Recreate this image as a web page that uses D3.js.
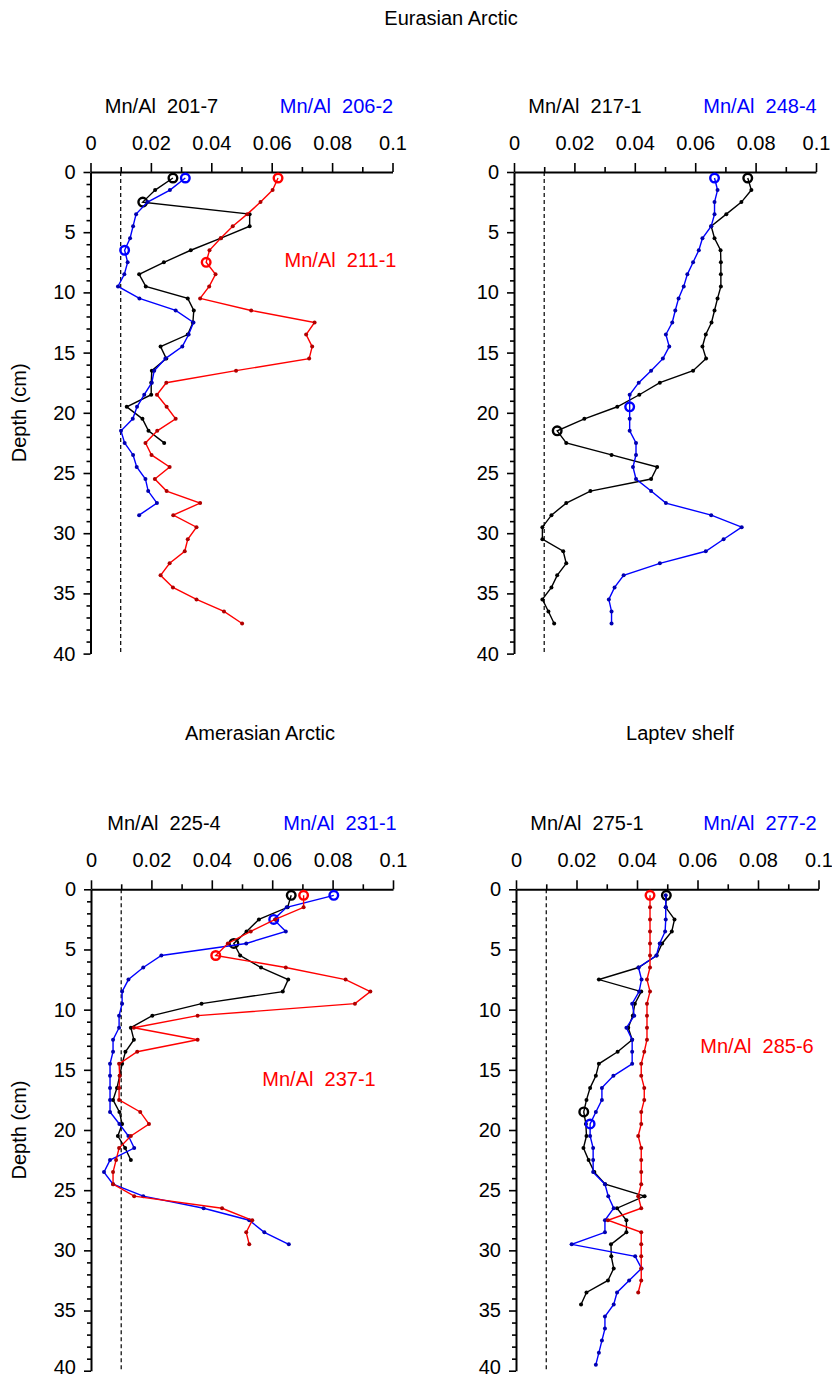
<!DOCTYPE html>
<html>
<head>
<meta charset="utf-8">
<script src="https://cdn.jsdelivr.net/npm/d3@7"></script>
<style>
  body { margin: 0; background: #fff; }
  svg { display: block; }
  text { font-family: "Liberation Sans", Arial, sans-serif; }
</style>
</head>
<body>
<div id="chart"></div>
<script>
// sample depths (cm), mid-points of 1 cm slices
const depths = [0.5, 1.5, 2.5, 3.5, 4.5, 5.5, 6.5, 7.5, 8.5, 9.5,
  10.5, 11.5, 12.5, 13.5, 14.5, 15.5, 16.5, 17.5, 18.5, 19.5,
  20.5, 21.5, 22.5, 23.5, 24.5, 25.5, 26.5, 27.5, 28.5, 29.5,
  30.5, 31.5, 32.5, 33.5, 34.5, 35.5, 36.5, 37.5, 38.5, 39.5];

// Mn/Al ratios per core, top down
const mn201 = [0.0273, 0.0214, 0.0173, 0.0527, 0.0527, 0.0432, 0.0332, 0.0243, 0.0161, 0.0183,
  0.0322, 0.0342, 0.0339, 0.0322, 0.0232, 0.0251, 0.0203, 0.0201, 0.0201, 0.0120,
  0.0172, 0.0192, 0.0244];
const mn206 = [0.0314, 0.0263, 0.0189, 0.0151, 0.0141, 0.0131, 0.0113, 0.0123, 0.0112, 0.0091,
  0.0162, 0.0282, 0.0341, 0.0325, 0.0304, 0.0248, 0.0211, 0.0203, 0.0178, 0.0154,
  0.0140, 0.0101, 0.0113, 0.0141, 0.0153, 0.0182, 0.0191, 0.0220, 0.0161];
const mn211 = [0.0621, 0.0603, 0.0563, 0.0519, 0.0471, 0.0431, 0.0394, 0.0383, 0.0414, 0.0393,
  0.0363, 0.0532, 0.0742, 0.0714, 0.0734, 0.0724, 0.0482, 0.0251, 0.0220, 0.0252,
  0.0282, 0.0221, 0.0182, 0.0202, 0.0262, 0.0213, 0.0252, 0.0363, 0.0274, 0.0351,
  0.0322, 0.0312, 0.0262, 0.0232, 0.0273, 0.0351, 0.0442, 0.0502];
const mn217 = [0.0774, 0.0786, 0.0753, 0.0703, 0.0653, 0.0664, 0.0684, 0.0685, 0.0685, 0.0685,
  0.0674, 0.0664, 0.0654, 0.0635, 0.0624, 0.0636, 0.0593, 0.0483, 0.0415, 0.0342,
  0.0233, 0.0143, 0.0173, 0.0323, 0.0474, 0.0454, 0.0253, 0.0173, 0.0124, 0.0094,
  0.0094, 0.0163, 0.0173, 0.0143, 0.0124, 0.0094, 0.0114, 0.0133];
const mn248 = [0.0664, 0.0674, 0.0664, 0.0664, 0.0653, 0.0624, 0.0612, 0.0593, 0.0574, 0.0562,
  0.0545, 0.0534, 0.0524, 0.0503, 0.0514, 0.0493, 0.0454, 0.0413, 0.0383, 0.0383,
  0.0383, 0.0383, 0.0404, 0.0404, 0.0394, 0.0404, 0.0454, 0.0503, 0.0653, 0.0754,
  0.0694, 0.0635, 0.0483, 0.0363, 0.0333, 0.0314, 0.0323, 0.0323];
const mn225 = [0.0663, 0.0651, 0.0556, 0.0515, 0.0473, 0.0494, 0.0563, 0.0653, 0.0635, 0.0366,
  0.0203, 0.0132, 0.0142, 0.0114, 0.0103, 0.0095, 0.0086, 0.0073, 0.0094, 0.0103,
  0.0089, 0.0113, 0.0132];
const mn231 = [0.0804, 0.0648, 0.0605, 0.0645, 0.0514, 0.0233, 0.0173, 0.0124, 0.0103, 0.0103,
  0.0093, 0.0093, 0.0073, 0.0073, 0.0063, 0.0063, 0.0063, 0.0063, 0.0063, 0.0094,
  0.0124, 0.0143, 0.0063, 0.0043, 0.0073, 0.0173, 0.0373, 0.0524, 0.0574, 0.0655];
const mn237 = [0.0704, 0.0704, 0.0610, 0.0529, 0.0453, 0.0413, 0.0645, 0.0843, 0.0925, 0.0874,
  0.0353, 0.0142, 0.0353, 0.0153, 0.0093, 0.0095, 0.0093, 0.0093, 0.0163, 0.0192,
  0.0132, 0.0093, 0.0083, 0.0073, 0.0073, 0.0143, 0.0434, 0.0534, 0.0514, 0.0524];
const mn275 = [0.0497, 0.0495, 0.0524, 0.0515, 0.0483, 0.0465, 0.0405, 0.0274, 0.0414, 0.0393,
  0.0386, 0.0371, 0.0384, 0.0336, 0.0274, 0.0264, 0.0245, 0.0233, 0.0224, 0.0231,
  0.0233, 0.0223, 0.0240, 0.0259, 0.0295, 0.0425, 0.0334, 0.0365, 0.0365, 0.0314,
  0.0315, 0.0323, 0.0304, 0.0233, 0.0215];
const mn277 = [0.0495, 0.0495, 0.0495, 0.0493, 0.0475, 0.0464, 0.0405, 0.0415, 0.0407, 0.0384,
  0.0391, 0.0365, 0.0384, 0.0384, 0.0384, 0.0322, 0.0284, 0.0284, 0.0264, 0.0245,
  0.0245, 0.0255, 0.0255, 0.0255, 0.0294, 0.0305, 0.0323, 0.0294, 0.0294, 0.0184,
  0.0394, 0.0415, 0.0374, 0.0334, 0.0323, 0.0294, 0.0294, 0.0284, 0.0274, 0.0264];
const mn285 = [0.0443, 0.0443, 0.0443, 0.0443, 0.0443, 0.0443, 0.0443, 0.0433, 0.0443, 0.0433,
  0.0433, 0.0433, 0.0433, 0.0424, 0.0414, 0.0414, 0.0424, 0.0424, 0.0414, 0.0414,
  0.0404, 0.0414, 0.0414, 0.0414, 0.0414, 0.0404, 0.0414, 0.0304, 0.0414, 0.0414,
  0.0414, 0.0414, 0.0414, 0.0404];

// depths drawn as open circles
const open201 = [0.5, 2.5];
const open206 = [0.5, 6.5];
const open211 = [0.5, 7.5];
const open217 = [0.5, 21.5];
const open248 = [0.5, 19.5];
const open225 = [0.5, 4.5];
const open231 = [0.5, 2.5];
const open237 = [0.5, 5.5];
const open275 = [0.5, 18.5];
const open277 = [19.5];
const open285 = [0.5];

// axis ticks
const xMajor = [0, 0.02, 0.04, 0.06, 0.08, 0.1];
const xMinor = [0.01, 0.03, 0.05, 0.07, 0.09];
const yMajor = [0, 5, 10, 15, 20, 25, 30, 35, 40];
const yMinor = [1, 2, 3, 4, 6, 7, 8, 9, 11, 12, 13, 14, 16, 17, 18, 19,
  21, 22, 23, 24, 26, 27, 28, 29, 31, 32, 33, 34, 36, 37, 38, 39];
const refLine = 0.01;

const BLACK = "#000", BLUE = "#0000ff", RED = "#ff0000";
const dotFill = { "#000": "#000", "#0000ff": "#0000b0", "#ff0000": "#b00000" };

const panels = [
  { x0: 90.5, x1: 392.5, y0: 172, y1: 653.6, depthLabel: true,
    series: [
      { name: "Mn/Al  201-7", vals: mn201, open: open201, color: BLACK, lx: 71, ly: -66 },
      { name: "Mn/Al  206-2", vals: mn206, open: open206, color: BLUE, lx: 246, ly: -66 },
      { name: "Mn/Al  211-1", vals: mn211, open: open211, color: RED, lx: 250, ly: 88 }
    ] },
  { x0: 514, x1: 816, y0: 172, y1: 653.6, depthLabel: false,
    series: [
      { name: "Mn/Al  217-1", vals: mn217, open: open217, color: BLACK, lx: 71, ly: -66 },
      { name: "Mn/Al  248-4", vals: mn248, open: open248, color: BLUE, lx: 246, ly: -66 }
    ] },
  { x0: 91, x1: 393, y0: 889.3, y1: 1370.7, depthLabel: true,
    series: [
      { name: "Mn/Al  225-4", vals: mn225, open: open225, color: BLACK, lx: 73, ly: -66 },
      { name: "Mn/Al  231-1", vals: mn231, open: open231, color: BLUE, lx: 249, ly: -66 },
      { name: "Mn/Al  237-1", vals: mn237, open: open237, color: RED, lx: 228, ly: 190 }
    ] },
  { x0: 516, x1: 818.5, y0: 889.3, y1: 1370.7, depthLabel: false,
    series: [
      { name: "Mn/Al  275-1", vals: mn275, open: open275, color: BLACK, lx: 71, ly: -66 },
      { name: "Mn/Al  277-2", vals: mn277, open: open277, color: BLUE, lx: 244, ly: -66 },
      { name: "Mn/Al  285-6", vals: mn285, open: open285, color: RED, lx: 241, ly: 157 }
    ] }
];

const titles = [
  { text: "Eurasian Arctic", x: 451, y: 25 },
  { text: "Amerasian Arctic", x: 260, y: 740 },
  { text: "Laptev shelf", x: 680, y: 740 }
];

const svg = d3.select("#chart").append("svg")
  .attr("width", 832)
  .attr("height", 1378);

svg.selectAll(".title")
  .data(titles)
  .enter()
  .append("text")
    .attr("class", "title")
    .attr("x", d => d.x)
    .attr("y", d => d.y)
    .attr("text-anchor", "middle")
    .attr("font-size", 20)
    .text(d => d.text);

panels.forEach(p => {
  const x = d3.scaleLinear().domain([0, 0.1]).range([p.x0, p.x1]);
  const y = d3.scaleLinear().domain([0, 40]).range([p.y0, p.y1]);
  const g = svg.append("g");

  // minor ticks first so the major ones sit on top
  g.append("g")
    .attr("transform", "translate(0," + p.y0 + ")")
    .call(d3.axisTop(x).tickValues(xMinor).tickSize(5).tickSizeOuter(0).tickFormat(""))
    .call(a => a.select(".domain").remove());
  g.append("g")
    .attr("transform", "translate(" + p.x0 + ",0)")
    .call(d3.axisLeft(y).tickValues(yMinor).tickSize(4).tickSizeOuter(0).tickFormat(""))
    .call(a => a.select(".domain").remove());

  const xAxis = g.append("g")
    .attr("transform", "translate(0," + p.y0 + ")")
    .call(d3.axisTop(x).tickValues(xMajor).tickSize(9).tickSizeOuter(0)
      .tickPadding(13).tickFormat(d => String(d)));
  const yAxis = g.append("g")
    .attr("transform", "translate(" + p.x0 + ",0)")
    .call(d3.axisLeft(y).tickValues(yMajor).tickSize(7).tickSizeOuter(0)
      .tickPadding(8).tickFormat(d => String(d)));

  [xAxis, yAxis].forEach(a => {
    a.attr("font-size", 20).attr("font-family", null);
    a.select(".domain").attr("stroke-width", 2);
  });
  g.selectAll(".tick line").attr("stroke", "#000").attr("stroke-width", 1.6);
  g.selectAll(".tick text").attr("fill", "#000");

  // the bottom row's last label would run past the page edge
  if (p.y1 > 1360) {
    yAxis.selectAll(".tick text").filter(d => d === 40).attr("dy", "0.12em");
  }

  // reference line at 0.01
  g.append("line")
    .attr("x1", x(refLine)).attr("x2", x(refLine))
    .attr("y1", y(0)).attr("y2", y(40))
    .attr("stroke", "#000")
    .attr("stroke-width", 1.2)
    .attr("stroke-dasharray", "4,3");

  if (p.depthLabel) {
    g.append("text")
      .attr("transform", "translate(26," + ((p.y0 + p.y1) / 2) + ") rotate(-90)")
      .attr("text-anchor", "middle")
      .attr("font-size", 20)
      .text("Depth (cm)");
  }

  const line = d3.line()
    .x(d => x(d.v))
    .y(d => y(d.d));

  p.series.forEach(s => {
    const pts = s.vals.map((v, i) => ({ v: v, d: depths[i] }));
    const sg = g.append("g");

    sg.append("path")
      .datum(pts)
      .attr("d", line)
      .attr("fill", "none")
      .attr("stroke", s.color)
      .attr("stroke-width", 1.4);

    sg.selectAll(".dot")
      .data(pts.filter(d => s.open.indexOf(d.d) < 0))
      .enter()
      .append("circle")
        .attr("class", "dot")
        .attr("cx", d => x(d.v))
        .attr("cy", d => y(d.d))
        .attr("r", 2)
        .attr("fill", dotFill[s.color]);

    sg.selectAll(".open")
      .data(pts.filter(d => s.open.indexOf(d.d) >= 0))
      .enter()
      .append("circle")
        .attr("class", "open")
        .attr("cx", d => x(d.v))
        .attr("cy", d => y(d.d))
        .attr("r", 4.3)
        .attr("fill", "none")
        .attr("stroke", s.color)
        .attr("stroke-width", 2.4);

    g.append("text")
      .attr("x", p.x0 + s.lx)
      .attr("y", p.y0 + s.ly + 7)
      .attr("text-anchor", "middle")
      .attr("font-size", 20)
      .attr("fill", s.color)
      .style("white-space", "pre")
      .text(s.name);
  });
});
</script>
</body>
</html>
